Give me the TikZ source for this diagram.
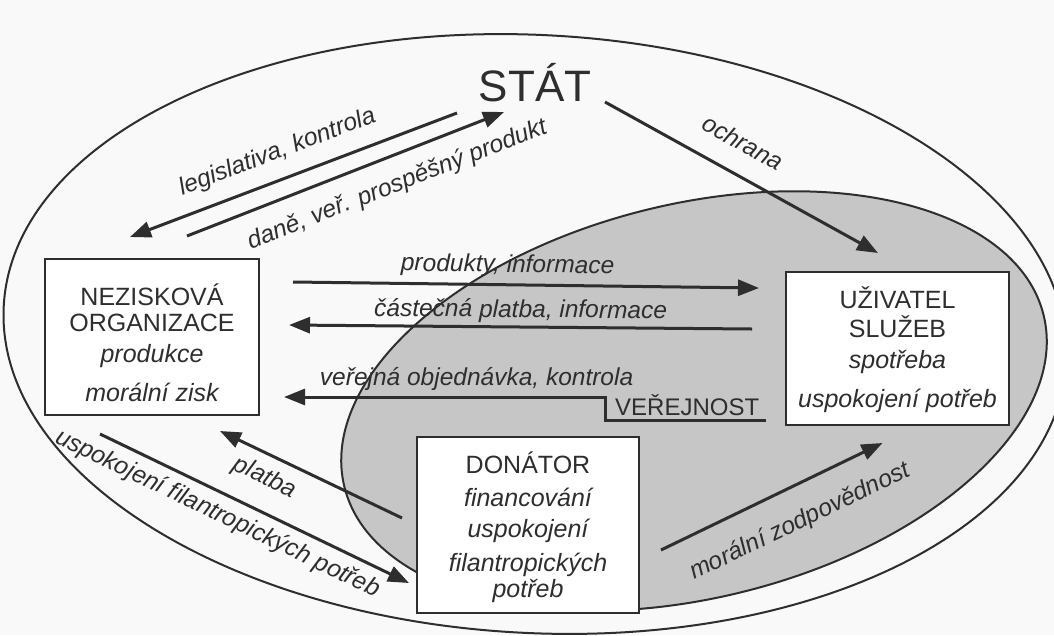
\documentclass[tikz,border=0pt]{standalone}
\usepackage{fontspec}
\setmainfont{Liberation Sans}
\usetikzlibrary{arrows.meta}
\definecolor{ink}{HTML}{2E2E2E}
\definecolor{shade}{HTML}{C6C6C6}
\definecolor{paper}{HTML}{F9F9F9}
\begin{document}
\begin{tikzpicture}[x=1pt,y=-1pt,
  box/.style={draw=ink, line width=2pt, fill=white, inner sep=0pt, text=ink},
  arr/.style={draw=ink, line width=3pt, -{Triangle[length=21pt,width=16pt]}},
  lbl/.style={text=ink, font=\fontsize{24.5}{26}\selectfont\itshape, inner sep=0pt, sloped}]
\useasboundingbox (0,0) rectangle (1054,635);
\fill[paper] (0,0) rectangle (1054,635);
% the two ovals
\draw[ink, line width=2pt, rotate around={-3:(535,334)}] (535,334) ellipse [x radius=532, y radius=299];
\filldraw[fill=shade, draw=ink, line width=2pt, rotate around={13.8:(694,401)}] (694,401) ellipse [x radius=360, y radius=197];
% actors
\node[text=ink, font=\fontsize{44}{44}\selectfont, anchor=base] (stat) at (535,101) {STÁT};
\node[box] (nez) at (152,337) {\parbox[c][156pt][t]{214pt}{\centering\fontsize{25}{26}\selectfont\rule{0pt}{46pt}NEZISKOVÁ\\ORGANIZACE\\[5pt]\itshape produkce\\[13pt]morální zisk}};
\node[box] (uz) at (897.5,348.5) {\parbox[c][153pt][t]{223pt}{\centering\fontsize{25}{26}\selectfont\rule{0pt}{36pt}UŽIVATEL\\[3pt]SLUŽEB\\[5pt]\itshape spotřeba\\[13pt]uspokojení potřeb}};
\node[box] (don) at (528,525) {\parbox[c][176pt][t]{222pt}{\centering\fontsize{25}{26}\selectfont\rule{0pt}{36pt}DONÁTOR\\[7pt]\itshape financování\\[5pt]uspokojení\\[8pt]filantropických\\potřeb}};
\node[text=ink, font=\fontsize{24}{26}\selectfont, inner sep=5pt, anchor=base west] (ver) at (610,415) {VEŘEJNOST};
% flows
\draw[arr] ([shift={(-78,12)}]stat.base) -- node[lbl, pos=0.52, above=14pt] {legislativa, kontrola} ([shift={(-22,-21)}]nez.north);
\draw[arr] ([shift={(35,-22)}]nez.north) -- node[lbl, pos=0.63, below=16pt] {daně, veř. prospěšný produkt} ([shift={(-31,11)}]stat.base);
\draw[arr] ([shift={(70,1)}]stat.base) -- node[lbl, pos=0.45, above=21pt] {ochrana} ([shift={(-19.5,-18)}]uz.north);
\draw[arr] ([shift={(33,-55)}]nez.east) -- node[lbl, pos=0.46, above=6pt] {produkty, informace} ([shift={(-26,-60.5)}]uz.west);
\draw[arr] ([shift={(-33,-19.5)}]uz.west) -- node[lbl, pos=0.5, above=3pt] {částečná platba, informace} ([shift={(29,-12)}]nez.east);
\draw[arr] ([xshift=2pt]ver.south east) -- ([xshift=-5pt]ver.south west) |- node[lbl, pos=0.7, above=5pt] {veřejná objednávka, kontrola} ([shift={(24,60)}]nez.east);
\draw[arr] ([shift={(-14,-7)}]don.west) -- node[lbl, pos=0.7, below=10pt] {platba} ([shift={(68,15)}]nez.south);
\draw[arr] ([shift={(-52,18)}]nez.south) -- node[lbl, pos=0.41, below=8pt] {uspokojení filantropických potřeb} ([shift={(-7,58)}]don.west);
\draw[arr] ([shift={(21,25)}]don.east) -- node[lbl, pos=0.56, below=22pt] {morální zodpovědnost} ([shift={(-15,17)}]uz.south);
\end{tikzpicture}
\end{document}
